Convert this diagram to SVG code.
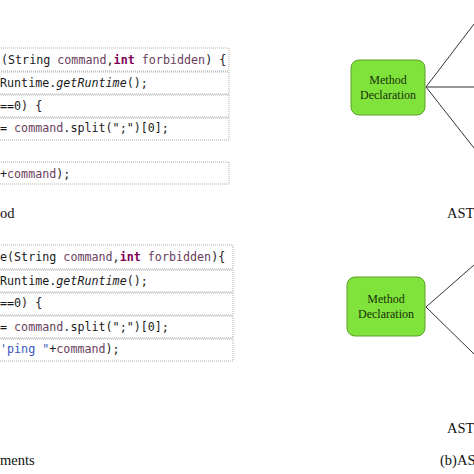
<svg xmlns="http://www.w3.org/2000/svg" width="474" height="474" viewBox="0 0 474 474">
<style>
.box{fill:#fff;stroke:#9a9a9a;stroke-width:0.8;stroke-dasharray:1 1}
.code{font-family:"DejaVu Sans Mono","Liberation Mono",monospace;font-size:11.7px;fill:#1a1a1a}
.v{fill:#6a3e5e}
.k{fill:#7f0055;font-weight:bold}
.s{fill:#3a55c0}
.i{font-style:italic}
.cap{font-family:"Liberation Serif",serif;font-size:14.5px;fill:#111}
.node{fill:#7fe33b;stroke:#5e9e2e;stroke-width:1}
.nt{font-family:"Liberation Serif",serif;font-size:12px;fill:#1a300c;text-anchor:middle}
.conn{stroke:#333;stroke-width:1;fill:none}
</style>
<rect width="474" height="474" fill="#fff"/>
<g id="code-a">
<rect class="box" x="-5" y="48" width="234" height="23"/>
<rect class="box" x="-5" y="72" width="234" height="22"/>
<rect class="box" x="-5" y="95" width="234" height="22"/>
<rect class="box" x="-5" y="118" width="234" height="22"/>
<rect class="box" x="-5" y="162" width="234" height="22"/>
<text class="code" x="1" y="64">(String <tspan class="v">command</tspan>,<tspan class="k">int</tspan> <tspan class="v">forbidden</tspan>) {</text>
<text class="code" x="0" y="87">Runtime.<tspan class="i">getRuntime</tspan>();</text>
<text class="code" x="0" y="110">==0) {</text>
<text class="code" x="0" y="132">= <tspan class="v">command</tspan>.split(";")[0];</text>
<text class="code" x="0" y="178">+<tspan class="v">command</tspan>);</text>
<text class="cap" x="0" y="218">od</text>
</g>
<g id="code-b">
<rect class="box" x="-5" y="245" width="238" height="24"/>
<rect class="box" x="-5" y="270" width="238" height="22"/>
<rect class="box" x="-5" y="293" width="238" height="22"/>
<rect class="box" x="-5" y="316" width="238" height="22"/>
<rect class="box" x="-5" y="339" width="238" height="22"/>
<text class="code" x="0" y="261">e(String <tspan class="v">command</tspan>,<tspan class="k">int</tspan> <tspan class="v">forbidden</tspan>){</text>
<text class="code" x="0" y="285">Runtime.<tspan class="i">getRuntime</tspan>();</text>
<text class="code" x="0" y="307">==0) {</text>
<text class="code" x="0" y="331">= <tspan class="v">command</tspan>.split(";")[0];</text>
<text class="code" x="0" y="353"><tspan class="s">'ping "</tspan>+<tspan class="v">command</tspan>);</text>
<text class="cap" x="0" y="465">ments</text>
</g>
<g id="connectors">
<line class="conn" x1="426" y1="87" x2="474" y2="24"/>
<line class="conn" x1="426" y1="87" x2="474" y2="87"/>
<line class="conn" x1="426" y1="87" x2="474" y2="148"/>
<line class="conn" x1="426" y1="307" x2="474" y2="265"/>
<line class="conn" x1="426" y1="307" x2="474" y2="354"/>
</g>
<g id="node-md1">
<rect class="node" x="351" y="60" width="74" height="55" rx="8"/>
<text class="nt" x="388" y="84">Method</text>
<text class="nt" x="388" y="99">Declaration</text>
</g>
<g id="node-md2">
<rect class="node" x="347" y="277" width="78" height="59" rx="8"/>
<text class="nt" x="386" y="303">Method</text>
<text class="nt" x="386" y="318">Declaration</text>
</g>
<text class="cap" x="447" y="218">AST</text>
<text class="cap" x="447" y="433">AST</text>
<text class="cap" x="440" y="465">(b)AS</text>
</svg>
